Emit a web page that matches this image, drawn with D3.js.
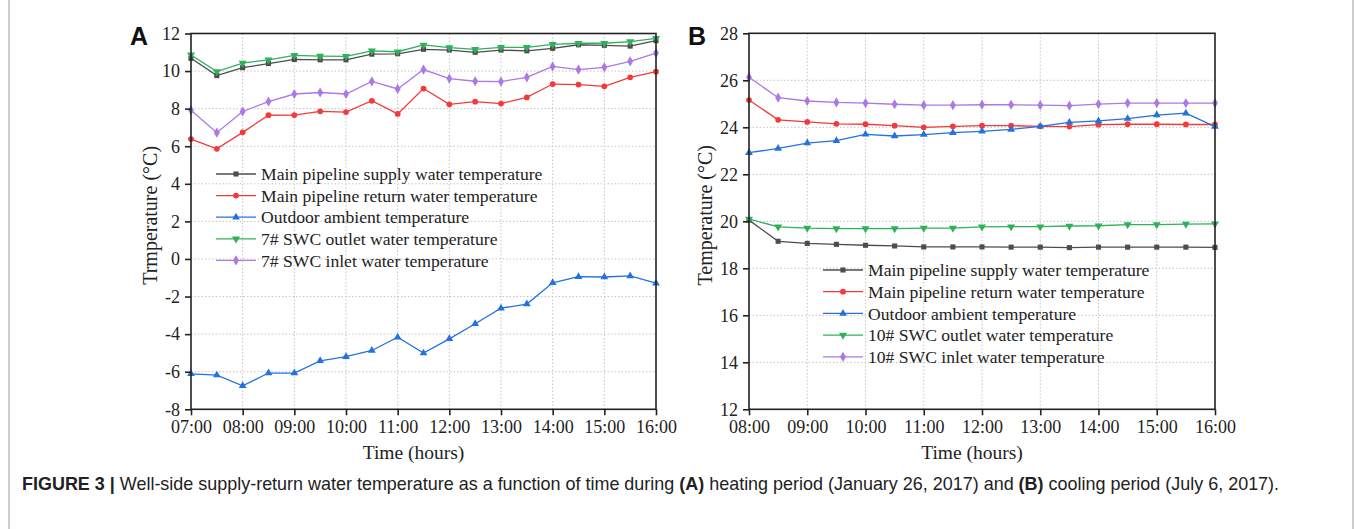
<!DOCTYPE html>
<html>
<head>
<meta charset="utf-8">
<script src="https://cdn.jsdelivr.net/npm/d3@7"></script>
<style>
    body { margin: 0; background: #fff; }
    svg text { font-family: "Liberation Serif", "Times New Roman", serif; }
    .grid line { stroke: #c4c4c4; stroke-dasharray: 1.5 2; stroke-width: 1; }
</style>
</head>
<body>
<svg id="chart" width="1355" height="529"></svg>
<script>
// ---------- Data ----------
const hoursA = [7, 7.5, 8, 8.5, 9, 9.5, 10, 10.5, 11, 11.5, 12, 12.5, 13, 13.5, 14, 14.5, 15, 15.5, 16];
const tickLabelsA = ["07:00", "08:00", "09:00", "10:00", "11:00", "12:00", "13:00", "14:00", "15:00", "16:00"];
const supplyA  = [10.68, 9.76, 10.18, 10.4, 10.62, 10.6, 10.6, 10.9, 10.92, 11.16, 11.12, 11.0, 11.12, 11.08, 11.21, 11.4, 11.37, 11.33, 11.62];
const returnA  = [6.38, 5.86, 6.74, 7.65, 7.66, 7.86, 7.82, 8.42, 7.72, 9.07, 8.23, 8.37, 8.27, 8.6, 9.31, 9.28, 9.19, 9.67, 9.97];
const outdoorA = [-6.11, -6.18, -6.75, -6.07, -6.07, -5.42, -5.2, -4.87, -4.16, -5.01, -4.25, -3.45, -2.62, -2.4, -1.27, -0.94, -0.96, -0.9, -1.29];
const outletA  = [10.86, 9.97, 10.42, 10.6, 10.84, 10.8, 10.78, 11.08, 11.03, 11.39, 11.25, 11.16, 11.26, 11.26, 11.42, 11.48, 11.48, 11.57, 11.74];
const inletA   = [7.92, 6.72, 7.85, 8.38, 8.78, 8.86, 8.78, 9.45, 9.05, 10.08, 9.6, 9.46, 9.44, 9.67, 10.25, 10.08, 10.2, 10.52, 10.96];

const hoursB = [8, 8.5, 9, 9.5, 10, 10.5, 11, 11.5, 12, 12.5, 13, 13.5, 14, 14.5, 15, 15.5, 16];
const tickLabelsB = ["08:00", "09:00", "10:00", "11:00", "12:00", "13:00", "14:00", "15:00", "16:00"];
const supplyB  = [20.05, 19.15, 19.06, 19.02, 18.98, 18.95, 18.91, 18.91, 18.91, 18.9, 18.9, 18.88, 18.9, 18.9, 18.9, 18.9, 18.89];
const returnB  = [25.16, 24.32, 24.23, 24.15, 24.13, 24.07, 24.0, 24.04, 24.07, 24.07, 24.04, 24.03, 24.11, 24.13, 24.13, 24.12, 24.12];
const outdoorB = [22.92, 23.1, 23.33, 23.43, 23.7, 23.63, 23.69, 23.77, 23.83, 23.91, 24.04, 24.21, 24.27, 24.37, 24.52, 24.6, 24.03];
const outletB  = [20.1, 19.76, 19.71, 19.69, 19.69, 19.69, 19.71, 19.71, 19.76, 19.77, 19.77, 19.8, 19.81, 19.86, 19.86, 19.88, 19.89];
const inletB   = [26.13, 25.26, 25.12, 25.06, 25.03, 24.98, 24.94, 24.94, 24.96, 24.96, 24.94, 24.92, 24.99, 25.03, 25.03, 25.03, 25.03];

const namesA = ["Main pipeline supply water temperature", "Main pipeline return water temperature",
    "Outdoor ambient temperature", "7# SWC outlet water temperature", "7# SWC inlet water temperature"];
const namesB = ["Main pipeline supply water temperature", "Main pipeline return water temperature",
    "Outdoor ambient temperature", "10# SWC outlet water temperature", "10# SWC inlet water temperature"];

const colors = ["#4d4d4d", "#f23a3a", "#2471e0", "#2fb05a", "#ab78e6"];
const symbols = [d3.symbolSquare, d3.symbolCircle, d3.symbolTriangle, "down", d3.symbolDiamond];

const svg = d3.select("#chart");

// ---------- Helpers ----------
function drawMarker(g, i, x, y) {
    if (symbols[i] === "down") {
        g.append("path")
            .attr("d", d3.symbol().type(d3.symbolTriangle).size(28)())
            .attr("transform", `translate(${x},${y}) rotate(180)`)
            .attr("fill", colors[i]);
    } else {
        const size = i === 4 ? 30 : 26;
        g.append("path")
            .attr("d", d3.symbol().type(symbols[i]).size(size)())
            .attr("transform", `translate(${x},${y})`)
            .attr("fill", colors[i]);
    }
}

function drawPanel(opt) {
    const x = d3.scaleLinear().domain(opt.xDomain).range([opt.left, opt.right]);
    const y = d3.scaleLinear().domain(opt.yDomain).range([opt.bottom, opt.top]);
    const xTicks = d3.range(opt.xDomain[0], opt.xDomain[1] + 1, 1);
    const yTicks = d3.range(opt.yDomain[0], opt.yDomain[1] + 1, 2);

    // grid
    const grid = svg.append("g").attr("class", "grid");
    grid.selectAll(".gx").data(xTicks.slice(1, -1)).join("line")
        .attr("x1", d => x(d)).attr("x2", d => x(d))
        .attr("y1", opt.top).attr("y2", opt.bottom);
    grid.selectAll(".gy").data(yTicks.slice(1, -1)).join("line")
        .attr("x1", opt.left).attr("x2", opt.right)
        .attr("y1", d => y(d)).attr("y2", d => y(d));

    // series
    opt.series.forEach((s, i) => {
        const pts = opt.hours.map((h, j) => [x(h), y(s[j])]);
        svg.append("path")
            .attr("d", d3.line()(pts))
            .attr("fill", "none").attr("stroke", colors[i]).attr("stroke-width", 1.3);
        const mg = svg.append("g");
        pts.forEach(p => drawMarker(mg, i, p[0], p[1]));
    });

    // frame
    svg.append("rect")
        .attr("x", opt.left).attr("y", opt.top)
        .attr("width", opt.right - opt.left).attr("height", opt.bottom - opt.top)
        .attr("fill", "none").attr("stroke", "#222").attr("stroke-width", 1.6);

    // axes
    const xAxis = d3.axisBottom(x).tickValues(xTicks)
        .tickFormat((d, i) => opt.tickLabels[i]).tickSize(6).tickPadding(5);
    const gx = svg.append("g").attr("transform", `translate(0,${opt.bottom})`).call(xAxis);
    const yAxis = d3.axisLeft(y).tickValues(yTicks).tickSize(6).tickPadding(5)
        .tickFormat(d => d < 0 ? "-" + Math.abs(d) : d);
    const gy = svg.append("g").attr("transform", `translate(${opt.left},0)`).call(yAxis);
    [gx, gy].forEach(g => {
        g.select(".domain").remove();
        g.selectAll(".tick line").attr("stroke", "#222").attr("stroke-width", 1.6);
        g.selectAll(".tick text").attr("font-family", "Liberation Serif, serif")
            .attr("font-size", 18).attr("fill", "#222");
    });

    // axis titles
    svg.append("text")
        .attr("x", (opt.left + opt.right) / 2 - 10).attr("y", opt.bottom + 50)
        .attr("text-anchor", "middle").attr("font-size", 19.5).attr("fill", "#222")
        .text("Time (hours)");
    svg.append("text")
        .attr("transform", `translate(${opt.yTitleX},${(opt.top + opt.bottom) / 2 - 6}) rotate(-90)`)
        .attr("text-anchor", "middle").attr("font-size", 20).attr("fill", "#222")
        .text(opt.yTitle);

    // panel letter
    svg.append("text")
        .attr("x", opt.letterX).attr("y", 45)
        .style("font-family", "Liberation Sans, Arial, sans-serif")
        .attr("font-weight", "bold").attr("font-size", 25).attr("fill", "#111")
        .text(opt.letter);

    // legend
    const lg = svg.append("g");
    opt.names.forEach((name, i) => {
        const ly = opt.legY + i * opt.legGap;
        lg.append("line")
            .attr("x1", opt.legX).attr("x2", opt.legX + 40)
            .attr("y1", ly).attr("y2", ly)
            .attr("stroke", colors[i]).attr("stroke-width", 1.3);
        drawMarker(lg, i, opt.legX + 20, ly);
        lg.append("text")
            .attr("x", opt.legX + 45).attr("y", ly).attr("dy", "0.35em")
            .attr("font-size", 17.6).attr("fill", "#222")
            .text(name);
    });
}

drawPanel({
    left: 191, right: 656, top: 33.5, bottom: 409.3,
    xDomain: [7, 16], yDomain: [-8, 12],
    hours: hoursA, tickLabels: tickLabelsA,
    series: [supplyA, returnA, outdoorA, outletA, inletA],
    names: namesA, legX: 216, legY: 174, legGap: 21.6,
    yTitle: "Trmperature (°C)", yTitleX: 157, letter: "A", letterX: 130
});

drawPanel({
    left: 749, right: 1215, top: 33.3, bottom: 409.3,
    xDomain: [8, 16], yDomain: [12, 28],
    hours: hoursB, tickLabels: tickLabelsB,
    series: [supplyB, returnB, outdoorB, outletB, inletB],
    names: namesB, legX: 823, legY: 270, legGap: 21.7,
    yTitle: "Temperature (°C)", yTitleX: 712, letter: "B", letterX: 688
});

// figure frame sides
svg.append("line").attr("x1", 9).attr("x2", 9).attr("y1", 0).attr("y2", 529)
    .attr("stroke", "#9a9a9a").attr("stroke-width", 1);
svg.append("line").attr("x1", 1353).attr("x2", 1353).attr("y1", 0).attr("y2", 529)
    .attr("stroke", "#9a9a9a").attr("stroke-width", 1);

// caption
const cap = svg.append("text").attr("x", 22).attr("y", 490)
    .style("font-family", "Liberation Sans, Arial, sans-serif")
    .attr("font-size", 16).attr("fill", "#222");
cap.append("tspan").attr("font-weight", "bold").text("FIGURE 3 | ");
cap.append("tspan").text("Well-side supply-return water temperature as a function of time during ");
cap.append("tspan").attr("font-weight", "bold").text("(A)");
cap.append("tspan").text(" heating period (January 26, 2017) and ");
cap.append("tspan").attr("font-weight", "bold").text("(B)");
cap.append("tspan").text(" cooling period (July 6, 2017).");
// fit caption to the width it has in the figure
const capW = cap.node().getComputedTextLength();
cap.attr("font-size", 16 * 1258 / capW);
</script>
</body>
</html>
